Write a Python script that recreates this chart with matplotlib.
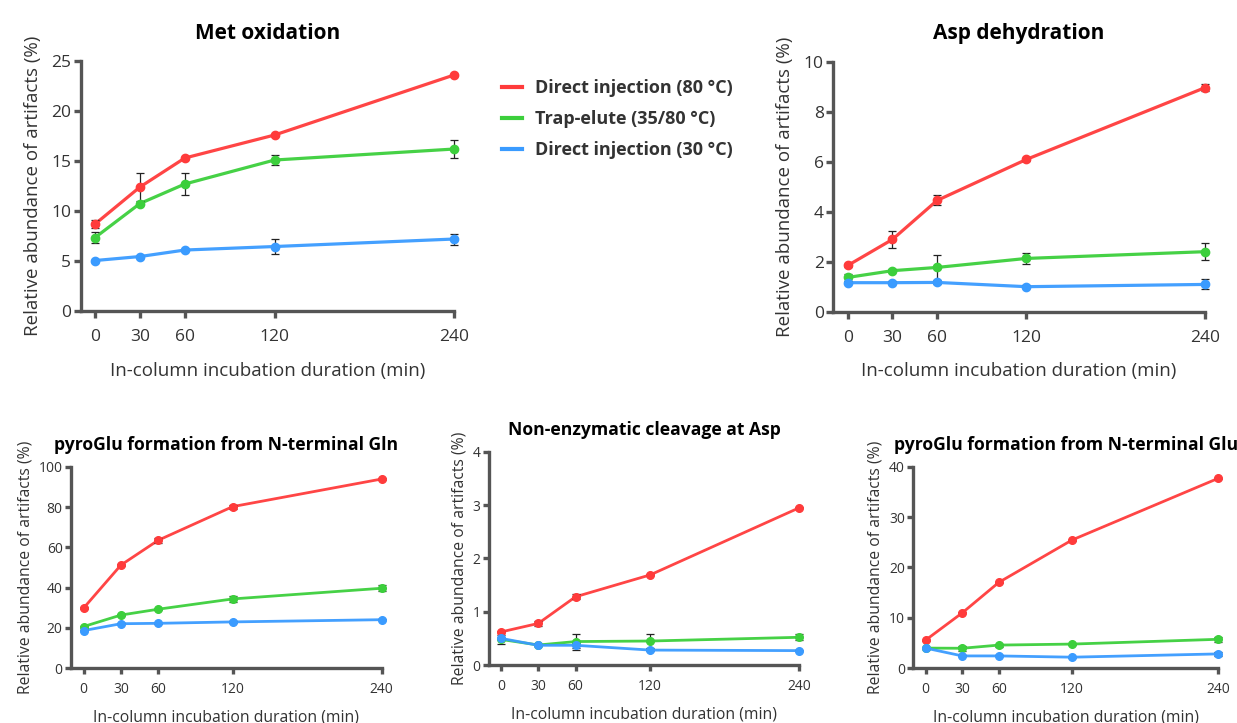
import matplotlib

matplotlib.use("Agg")
import matplotlib.pyplot as plt
from matplotlib.lines import Line2D

plt.rcParams["font.family"] = ["Open Sans", "DejaVu Sans"]

# incubation time points (min)
minutes = [0, 30, 60, 120, 240]

series_labels = [
    "Direct injection (80 °C)",
    "Trap-elute (35/80 °C)",
    "Direct injection (30 °C)",
]
series_colors = ["#ff3b3b", "#3ccf3c", "#3a9bff"]

# Met oxidation: mean and error per series (red, green, blue)
met_mean = [
    [8.7, 12.4, 15.3, 17.6, 23.6],
    [7.35, 10.75, 12.7, 15.1, 16.2],
    [5.05, 5.45, 6.1, 6.45, 7.2],
]
met_err = [
    [0.4, 1.4, 0.1, 0.1, 0.1],
    [0.55, 0.1, 1.1, 0.5, 0.9],
    [0.1, 0.1, 0.1, 0.75, 0.55],
]

# Asp dehydration
aspdh_mean = [
    [1.85, 2.89, 4.45, 6.09, 8.96],
    [1.37, 1.64, 1.77, 2.13, 2.4],
    [1.16, 1.16, 1.17, 1.0, 1.09],
]
aspdh_err = [
    [0.05, 0.34, 0.2, 0.05, 0.15],
    [0.15, 0.05, 0.5, 0.22, 0.33],
    [0.05, 0.05, 0.05, 0.05, 0.2],
]

# pyroGlu from N-terminal Gln
gln_mean = [
    [29.9, 51.2, 63.5, 80.2, 93.9],
    [20.7, 26.4, 29.3, 34.4, 39.7],
    [18.7, 22.1, 22.3, 23.0, 24.1],
]
gln_err = [
    [0.3, 0.3, 1.2, 1.0, 0.3],
    [0.3, 0.3, 0.3, 1.5, 1.5],
    [0.3, 0.3, 0.3, 0.3, 0.3],
]

# non-enzymatic cleavage at Asp
clv_mean = [
    [0.62, 0.78, 1.28, 1.69, 2.95],
    [0.48, 0.375, 0.44, 0.45, 0.52],
    [0.5, 0.37, 0.37, 0.28, 0.27],
]
clv_err = [
    [0.01, 0.05, 0.05, 0.01, 0.01],
    [0.08, 0.01, 0.15, 0.14, 0.06],
    [0.01, 0.01, 0.05, 0.01, 0.01],
]

# pyroGlu from N-terminal Glu
glu_mean = [
    [5.6, 11.0, 17.05, 25.45, 37.7],
    [4.0, 3.97, 4.6, 4.8, 5.75],
    [4.0, 2.45, 2.45, 2.2, 2.85],
]
glu_err = [
    [0.1, 0.1, 0.1, 0.1, 0.1],
    [0.1, 0.5, 0.3, 0.1, 0.5],
    [0.1, 0.1, 0.1, 0.1, 0.4],
]

SPINE = "#555555"
TXT = "#333333"


def draw_panel(ax, means, errs, title, ymax, ystep, xmin, big):
    lw = 2.3 if big else 2.0
    ms = 6 if big else 5.5
    for mean, err, color in zip(means, errs, series_colors):
        ax.plot(minutes, mean, color=color, lw=lw, alpha=0.95, zorder=3,
                clip_on=False, solid_capstyle="round")
        ax.errorbar(minutes, mean, yerr=err, fmt="none", ecolor="#222222",
                    elinewidth=0.9, capsize=3, capthick=0.9, zorder=4,
                    clip_on=False)
        ax.plot(minutes, mean, "o", color=color, ms=ms, zorder=5,
                clip_on=False)

    ax.set_xlim(xmin, 240)
    ax.set_ylim(0, ymax)
    ax.set_xticks(minutes)
    ax.set_yticks([ystep * i for i in range(int(round(ymax / ystep)) + 1)])
    for side in ("top", "right"):
        ax.spines[side].set_visible(False)
    for side in ("left", "bottom"):
        ax.spines[side].set_color(SPINE)
        ax.spines[side].set_linewidth(2.4)
    tick_fs = 12.5 if big else 10
    label_fs = 13.5 if big else 11.3
    ax.tick_params(axis="both", colors=SPINE, width=2.4,
                   length=5 if big else 4, labelsize=tick_fs, labelcolor=TXT)
    ax.tick_params(axis="x", pad=8 if big else 6)
    ax.tick_params(axis="y", pad=2)
    ax.set_xlabel("In-column incubation duration (min)", fontsize=label_fs,
                  color=TXT, labelpad=12 if big else 9)
    ax.set_ylabel("Relative abundance of artifacts (%)", fontsize=label_fs,
                  color=TXT, labelpad=7 if big else 4)
    ax.set_title(title, fontsize=15 if big else 12.6, fontweight="bold",
                 color="black", pad=16 if big else 12)


fig = plt.figure(figsize=(12.37, 7.23), dpi=100)

ax_met = fig.add_axes([0.0655, 0.5698, 0.3015, 0.3458])
draw_panel(ax_met, met_mean, met_err, "Met oxidation", 25, 5, -9.4, True)

ax_asp = fig.add_axes([0.6737, 0.5689, 0.3004, 0.3458])
draw_panel(ax_asp, aspdh_mean, aspdh_err, "Asp dehydration", 10, 2, -9.7, True)

ax_gln = fig.add_axes([0.0574, 0.0757, 0.2512, 0.2788])
draw_panel(ax_gln, gln_mean, gln_err, "pyroGlu formation from N-terminal Gln",
           100, 20, -10.2, False)

ax_clv = fig.add_axes([0.3953, 0.0802, 0.2509, 0.2950])
draw_panel(ax_clv, clv_mean, clv_err, "Non-enzymatic cleavage at Asp",
           4, 1, -9.65, False)

ax_glu = fig.add_axes([0.7383, 0.0757, 0.2466, 0.2788])
draw_panel(ax_glu, glu_mean, glu_err, "pyroGlu formation from N-terminal Glu",
           40, 10, -10.2, False)

handles = [Line2D([0], [0], color=c, lw=3) for c in series_colors]
leg = fig.legend(handles, series_labels, loc="upper left",
                 bbox_to_anchor=(0.393, 0.913), frameon=False,
                 prop={"size": 13, "weight": "bold"}, handlelength=1.1,
                 handletextpad=0.7, labelspacing=0.72)
for t in leg.get_texts():
    t.set_color(TXT)

fig.savefig("out.png", dpi=100)
